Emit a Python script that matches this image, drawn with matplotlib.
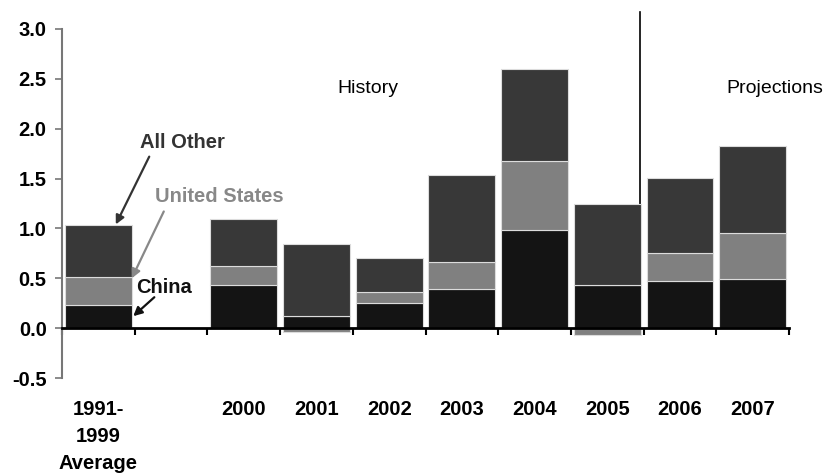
import matplotlib
matplotlib.use("Agg")
import matplotlib.pyplot as plt
import numpy as np

plt.rcParams['font.family'] = ['Liberation Sans', 'DejaVu Sans']

categories = ["1991-\n1999\nAverage", "", "2000", "2001", "2002", "2003",
              "2004", "2005", "2006", "2007"]
china = [0.23, np.nan, 0.43, 0.12, 0.25, 0.39, 0.98, 0.43, 0.47, 0.49]
united_states = [0.285, np.nan, 0.19, -0.04, 0.115, 0.27, 0.695, -0.07, 0.285, 0.46]
all_other = [0.515, np.nan, 0.475, 0.72, 0.34, 0.88, 0.92, 0.81, 0.75, 0.88]
y_ticks = [-0.5, 0.0, 0.5, 1.0, 1.5, 2.0, 2.5, 3.0]

c_china = "#141414"
c_us = "#808080"
c_other = "#383838"

fig = plt.figure(figsize=(8.25, 4.75), dpi=100)
ax = fig.add_axes([62 / 825, 1 - 378 / 475, (789 - 62) / 825, (378 - 29) / 475])

x = np.arange(len(categories))
ch = np.array(china)
us = np.array(united_states)
ot = np.array(all_other)
us_pos = np.where(us > 0, us, 0)
us_neg = np.where(us < 0, us, 0)

# Divider between history and projections, drawn behind the bars
ax.plot([7.445, 7.445], [0, 3.17], color="black", lw=1.2, zorder=1, clip_on=False)

w = 0.92
ekw = dict(edgecolor="#dcdcdc", linewidth=0.8, zorder=2)
ax.bar(x, ch, w, color=c_china, **ekw)
ax.bar(x, us_pos, w, bottom=ch, color=c_us, **ekw)
ax.bar(x, us_neg, w, color=c_us, **ekw)
ax.bar(x, ot, w, bottom=ch + us_pos, color=c_other, **ekw)

ax.set_xlim(-0.5, len(categories) - 0.5)
ax.set_ylim(-0.5, 3.0)

# Axes styling
for s in ["top", "right"]:
    ax.spines[s].set_visible(False)
ax.spines["bottom"].set_position(("data", 0))
ax.spines["bottom"].set_linewidth(2)
ax.spines["bottom"].set_color("black")
ax.spines["bottom"].set_zorder(3)
ax.spines["left"].set_color("#777777")
ax.spines["left"].set_linewidth(1.5)

ax.set_xticks(np.arange(len(categories) + 1) - 0.5)
ax.set_xticklabels([])
ax.tick_params(axis="x", direction="out", length=5, width=1.5, color="black")

ax.set_yticks(y_ticks)
ax.set_yticklabels([f"{v:.1f}" for v in y_ticks], fontsize=14.5, fontweight="bold")
ax.tick_params(axis="y", direction="out", length=5, width=1.2, color="#777777", pad=6)

# Category labels below the plot area
for i, lab in enumerate(categories):
    ax.annotate(lab, xy=(i, 0), xycoords=("data", "axes fraction"),
                xytext=(0, -16), textcoords="offset points",
                ha="center", va="top", fontsize=14.5, fontweight="bold",
                linespacing=1.52, annotation_clip=False)

# Section labels
ax.text(3.71, 2.405, "History", ha="center", va="center", fontsize=14)
ax.text(9.3, 2.405, "Projections", ha="center", va="center", fontsize=14, clip_on=False)

# Series annotations: labels and their arrows
txt = dict(fontsize=14.5, fontweight="bold", ha="center", va="center")
ax.text(1.15, 1.86, "All Other", color="#333333", **txt)
ax.text(1.67, 1.32, "United States", color="#888888", **txt)
ax.text(0.90, 0.41, "China", color="#111111", **txt)

arrows = [((0.70, 1.72), (0.24, 1.04), "#333333"),
          ((0.90, 1.17), (0.46, 0.50), "#888888"),
          ((0.77, 0.31), (0.48, 0.12), "#111111")]
for tail, head, col in arrows:
    ax.annotate("", xy=head, xytext=tail,
                arrowprops=dict(arrowstyle="-|>", color=col, lw=1.6,
                                mutation_scale=13, shrinkA=0, shrinkB=0),
                zorder=4)

fig.savefig("out.png", dpi=100, facecolor="white")
